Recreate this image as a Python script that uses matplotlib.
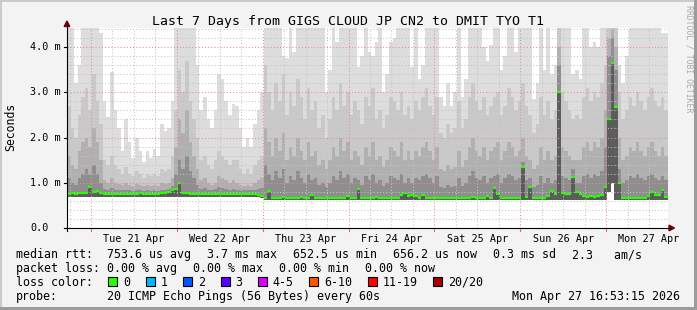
import numpy as np
import matplotlib
matplotlib.use("Agg")
import matplotlib.pyplot as plt
from matplotlib.patches import Rectangle, Polygon
from matplotlib.lines import Line2D

TITLE = "Last 7 Days from GIGS CLOUD JP CN2 to DMIT TYO T1"
DAY_LABELS = ["Tue 21 Apr", "Wed 22 Apr", "Thu 23 Apr", "Fri 24 Apr",
              "Sat 25 Apr", "Sun 26 Apr", "Mon 27 Apr"]
Y_TICKS = [0.0, 1.0, 2.0, 3.0, 4.0]
Y_TICK_LABELS = ["0.0", "1.0 m", "2.0 m", "3.0 m", "4.0 m"]

# one value per hour, in ms, starting Mon 20 Apr 16:53
median_ms = [
    0.76, 0.77, 0.76, 0.77, 0.78, 0.77, 0.90, 0.80, 0.81, 0.78, 0.76, 0.75, 0.76, 0.75, 0.76, 0.75, 0.76, 0.76, 0.75, 0.76, 0.77, 0.76, 0.76, 0.75,
    0.75, 0.76, 0.77, 0.78, 0.80, 0.84, 0.86, 1.00, 0.78, 0.77, 0.76, 0.76, 0.75, 0.76, 0.76, 0.75, 0.75, 0.76, 0.75, 0.75, 0.76, 0.75, 0.75, 0.75,
    0.75, 0.75, 0.76, 0.75, 0.75, 0.74, 0.70, 0.66, 0.82, 0.67, 0.66, 0.67, 0.68, 0.67, 0.66, 0.67, 0.66, 0.68, 0.67, 0.66, 0.73, 0.66, 0.67, 0.66,
    0.66, 0.67, 0.66, 0.66, 0.67, 0.66, 0.70, 0.66, 0.67, 0.86, 0.67, 0.66, 0.66, 0.67, 0.68, 0.66, 0.66, 0.67, 0.67, 0.66, 0.66, 0.72, 0.77, 0.70,
    0.72, 0.70, 0.66, 0.73, 0.66, 0.67, 0.66, 0.66, 0.67, 0.66, 0.66, 0.67, 0.66, 0.66, 0.67, 0.66, 0.66, 0.68, 0.66, 0.67, 0.66, 0.70, 0.67, 0.88,
    0.75, 0.67, 0.66, 0.66, 0.67, 0.66, 0.66, 1.35, 0.68, 0.91, 0.66, 0.67, 0.66, 0.66, 0.70, 0.82, 0.76, 3.00, 0.78, 0.76, 0.75, 1.12, 0.80, 0.76,
    0.70, 0.68, 0.70, 0.69, 0.70, 0.74, 0.90, 2.40, 3.65, 2.68, 1.00, 0.66, 0.66, 0.66, 0.67, 0.66, 0.66, 0.67, 0.70, 0.80, 0.72, 0.74, 0.83, 0.68,
]

min_ms = [
    0.69, 0.69, 0.69, 0.69, 0.69, 0.69, 0.69, 0.69, 0.69, 0.69, 0.69, 0.69, 0.69, 0.69, 0.69, 0.69, 0.69, 0.69, 0.69, 0.69, 0.69, 0.69, 0.69, 0.69,
    0.69, 0.69, 0.69, 0.69, 0.69, 0.69, 0.69, 0.69, 0.69, 0.69, 0.69, 0.69, 0.69, 0.69, 0.69, 0.69, 0.69, 0.69, 0.69, 0.69, 0.69, 0.69, 0.69, 0.69,
    0.69, 0.69, 0.69, 0.69, 0.69, 0.69, 0.66, 0.61, 0.61, 0.61, 0.61, 0.61, 0.61, 0.61, 0.61, 0.61, 0.61, 0.61, 0.61, 0.61, 0.61, 0.61, 0.61, 0.61,
    0.61, 0.61, 0.61, 0.61, 0.61, 0.61, 0.61, 0.61, 0.61, 0.61, 0.61, 0.61, 0.61, 0.61, 0.61, 0.61, 0.61, 0.61, 0.61, 0.61, 0.61, 0.61, 0.61, 0.61,
    0.61, 0.61, 0.61, 0.61, 0.61, 0.61, 0.61, 0.61, 0.61, 0.61, 0.61, 0.61, 0.61, 0.61, 0.61, 0.61, 0.61, 0.61, 0.61, 0.61, 0.61, 0.61, 0.61, 0.61,
    0.61, 0.61, 0.61, 0.61, 0.61, 0.61, 0.61, 0.62, 0.61, 0.61, 0.61, 0.61, 0.61, 0.61, 0.61, 0.61, 0.61, 0.62, 0.61, 0.61, 0.61, 0.61, 0.61, 0.61,
    0.61, 0.61, 0.61, 0.61, 0.61, 0.61, 0.61, 0.80, 1.00, 0.62, 0.61, 0.61, 0.61, 0.61, 0.61, 0.61, 0.61, 0.61, 0.61, 0.61, 0.61, 0.61, 0.61, 0.61,
]

# slowest ping of the 20 (goes off the top of the graph above 4.42)
top_ms = [
    4.6, 4.6, 3.2, 3.6, 4.6, 4.6, 4.6, 4.6, 4.6, 4.3, 2.8, 2.45, 3.45, 2.6, 2.2, 1.7, 2.4, 1.9, 1.55, 2.0, 1.7, 1.45, 1.7, 1.55,
    1.75, 1.6, 2.3, 2.15, 2.2, 2.8, 4.6, 4.6, 4.6, 4.6, 4.6, 4.6, 3.6, 2.6, 2.9, 2.4, 2.2, 2.6, 3.4, 3.3, 2.8, 2.5, 2.75, 2.7,
    2.2, 1.8, 2.0, 1.8, 2.3, 2.6, 3.0, 4.6, 4.6, 4.6, 4.6, 4.6, 3.8, 3.75, 4.6, 3.9, 4.6, 4.6, 4.6, 4.6, 4.6, 4.6, 4.6, 4.6,
    3.0, 3.5, 4.6, 4.1, 4.6, 4.6, 4.6, 4.6, 4.6, 3.55, 3.8, 4.6, 3.9, 3.8, 4.1, 4.6, 3.0, 3.4, 4.1, 4.2, 4.6, 4.6, 4.6, 4.6,
    3.55, 4.6, 3.3, 3.6, 4.6, 4.6, 4.6, 4.6, 2.9, 2.7, 3.2, 2.7, 3.0, 4.6, 2.9, 3.3, 4.6, 4.6, 4.6, 4.6, 4.0, 3.7, 4.05, 4.6,
    4.6, 3.5, 3.8, 4.6, 4.6, 3.9, 4.6, 4.6, 4.6, 4.6, 2.85, 3.2, 4.6, 3.5, 4.6, 3.4, 3.6, 4.6, 4.6, 4.6, 4.6, 3.4, 3.5, 3.3,
    4.6, 4.6, 4.0, 4.1, 4.0, 4.6, 4.6, 4.6, 4.6, 4.6, 3.6, 3.2, 3.8, 4.6, 4.6, 4.6, 4.6, 4.6, 4.6, 4.6, 4.6, 4.6, 4.3, 4.3,
]

q90_ms = [
    2.7, 2.2, 2.0, 2.5, 2.9, 3.1, 2.6, 3.4, 2.8, 2.3, 1.5, 1.4, 1.6, 1.4, 1.3, 1.2, 1.35, 1.2, 1.15, 1.25, 1.2, 1.1, 1.2, 1.15,
    1.2, 1.15, 1.3, 1.25, 1.3, 1.6, 2.6, 3.5, 3.0, 3.7, 2.8, 2.4, 2.0, 1.5, 1.6, 1.4, 1.3, 1.5, 1.7, 1.6, 1.5, 1.4, 1.5, 1.5,
    1.3, 1.2, 1.3, 1.2, 1.4, 1.5, 1.6, 3.6, 3.0, 2.6, 3.2, 2.8, 3.4, 2.5, 3.0, 2.7, 3.3, 2.9, 2.4, 3.1, 2.6, 2.8, 2.2, 2.5,
    2.0, 2.4, 2.9, 2.6, 3.2, 2.7, 3.0, 2.5, 2.8, 2.6, 2.3, 2.9, 2.7, 3.1, 2.4, 2.6, 2.2, 2.5, 2.9, 2.8, 2.6, 3.0, 2.5, 2.7,
    2.4, 2.8, 2.6, 2.9, 3.1, 2.7, 2.5, 2.9, 2.1, 2.0, 2.3, 2.1, 2.2, 2.8, 2.2, 2.4, 2.9, 3.2, 2.8, 2.6, 2.9, 2.5, 2.7, 2.9,
    3.0, 2.5, 2.7, 3.1, 2.9, 2.6, 2.8, 3.2, 2.7, 2.5, 2.1, 2.3, 2.9, 2.5, 2.8, 2.4, 2.6, 4.6, 3.0, 2.8, 2.6, 2.4, 2.5, 2.4,
    2.9, 3.1, 2.8, 3.0, 2.9, 3.2, 3.6, 4.6, 4.6, 4.6, 3.0, 2.4, 2.6, 2.9, 2.7, 3.0, 2.8, 2.6, 2.9, 3.1, 2.8, 2.7, 2.9, 2.6,
]

q75_ms = [
    1.6, 1.4, 1.3, 1.7, 1.9, 2.0, 1.8, 2.2, 1.9, 1.5, 1.05, 1.0, 1.1, 1.0, 0.98, 0.95, 1.0, 0.95, 0.93, 0.97, 0.95, 0.92, 0.95, 0.93,
    0.95, 0.93, 1.0, 0.98, 1.0, 1.1, 1.8, 2.4, 2.1, 2.6, 1.9, 1.6, 1.3, 1.05, 1.1, 1.0, 0.95, 1.0, 1.15, 1.1, 1.05, 1.0, 1.05, 1.0,
    0.95, 0.92, 0.95, 0.92, 1.0, 1.05, 1.1, 2.2, 1.9, 1.6, 2.0, 1.7, 2.1, 1.5, 1.8, 1.6, 2.0, 1.7, 1.5, 1.9, 1.6, 1.7, 1.4, 1.5,
    1.3, 1.5, 1.8, 1.6, 2.0, 1.7, 1.9, 1.5, 1.7, 1.6, 1.4, 1.8, 1.6, 1.9, 1.5, 1.6, 1.35, 1.5, 1.8, 1.7, 1.6, 1.9, 1.5, 1.7,
    1.5, 1.7, 1.6, 1.8, 1.9, 1.7, 1.5, 1.8, 1.3, 1.25, 1.4, 1.3, 1.35, 1.7, 1.35, 1.5, 1.8, 2.0, 1.7, 1.6, 1.8, 1.5, 1.7, 1.8,
    1.9, 1.5, 1.7, 1.9, 1.8, 1.6, 1.7, 2.0, 1.6, 1.5, 1.3, 1.4, 1.8, 1.5, 1.7, 1.5, 1.6, 4.0, 1.8, 1.7, 1.6, 1.5, 1.5, 1.5,
    1.8, 1.9, 1.7, 1.9, 1.8, 2.0, 2.6, 4.2, 4.4, 4.0, 2.0, 1.5, 1.6, 1.8, 1.7, 1.9, 1.7, 1.6, 1.8, 1.9, 1.7, 1.6, 1.8, 1.6,
]

q60_ms = [
    1.1, 1.0, 0.95, 1.1, 1.2, 1.3, 1.2, 1.4, 1.2, 1.0, 0.86, 0.84, 0.88, 0.85, 0.84, 0.83, 0.85, 0.83, 0.82, 0.84, 0.83, 0.82, 0.83, 0.82,
    0.83, 0.82, 0.85, 0.85, 0.87, 0.92, 1.2, 1.5, 1.3, 1.6, 1.25, 1.1, 0.95, 0.86, 0.88, 0.85, 0.84, 0.86, 0.9, 0.88, 0.86, 0.85, 0.86, 0.85,
    0.84, 0.83, 0.84, 0.83, 0.85, 0.86, 0.88, 1.4, 1.2, 1.05, 1.25, 1.1, 1.3, 1.0, 1.15, 1.05, 1.25, 1.1, 1.0, 1.2, 1.05, 1.1, 0.95, 1.0,
    0.9, 1.0, 1.15, 1.05, 1.25, 1.1, 1.2, 1.0, 1.1, 1.05, 0.95, 1.15, 1.05, 1.2, 1.0, 1.05, 0.92, 1.0, 1.15, 1.1, 1.05, 1.2, 1.0, 1.1,
    1.0, 1.1, 1.05, 1.15, 1.2, 1.1, 1.0, 1.15, 0.9, 0.88, 0.95, 0.9, 0.92, 1.1, 0.92, 1.0, 1.15, 1.25, 1.1, 1.05, 1.15, 1.0, 1.1, 1.15,
    1.2, 1.0, 1.1, 1.2, 1.15, 1.05, 1.1, 1.45, 1.05, 1.1, 0.9, 0.95, 1.15, 1.0, 1.1, 1.0, 1.05, 3.6, 1.15, 1.1, 1.05, 1.3, 1.0, 1.0,
    1.15, 1.2, 1.1, 1.2, 1.15, 1.25, 1.8, 3.8, 4.2, 3.5, 1.3, 1.0, 1.05, 1.15, 1.1, 1.2, 1.1, 1.05, 1.15, 1.2, 1.1, 1.05, 1.15, 1.05,
]

MEDIAN_TEXT = ["median rtt:  753.6 us avg", "3.7 ms max", "652.5 us min",
               "656.2 us now", "0.3 ms sd", "2.3   am/s"]
LOSS_TEXT = ["packet loss: 0.00 % avg", "0.00 % max", "0.00 % min", "0.00 % now"]
LOSS_LABELS = ["0", "1", "2", "3", "4-5", "6-10", "11-19", "20/20"]
LOSS_COLORS = ["#26ff00", "#00b8ff", "#0059ff", "#5e00ff",
               "#dd00ff", "#ff5500", "#ff0000", "#a10000"]
PROBE_TEXT = "20 ICMP Echo Pings (56 Bytes) every 60s"
STAMP_TEXT = "Mon Apr 27 16:53:15 2026"

W, H = 697, 310
FIRST_MIDNIGHT = 6.7  # hours from the left edge to Tue 00:00
FONT = "DejaVu Sans Mono"


def fx(px):
    return px / W


def fy(py):
    return 1 - py / H


def main():
    fig = plt.figure(figsize=(W / 100, H / 100), dpi=100, facecolor="#f3f3f3")

    # frame shading like rrdtool
    fig.add_artist(Rectangle((0, fy(2)), 1, 2 / H, transform=fig.transFigure, color="#cbcbcb", lw=0))
    fig.add_artist(Rectangle((0, 0), 2 / W, 1, transform=fig.transFigure, color="#cbcbcb", lw=0))
    fig.add_artist(Rectangle((fx(694), 0), 3 / W, 1, transform=fig.transFigure, color="#9c9c9c", lw=0))
    fig.add_artist(Rectangle((0, 0), 1, 3 / H, transform=fig.transFigure, color="#9c9c9c", lw=0))

    ax = fig.add_axes([fx(67), fy(228), 601 / W, 200 / H])
    ax.set_facecolor("white")
    n = len(median_ms)
    edges = np.arange(n + 1)

    ax.stairs(top_ms, edges, baseline=min_ms, fill=True, color="#dddddd", lw=0, zorder=1)
    ax.stairs(q90_ms, edges, baseline=min_ms, fill=True, color="#c9c9c9", lw=0, zorder=1)
    ax.stairs(q75_ms, edges, baseline=min_ms, fill=True, color="#b0b0b0", lw=0, zorder=1)
    ax.stairs(q60_ms, edges, baseline=min_ms, fill=True, color="#8e8e8e", lw=0, zorder=1)
    ax.stairs(median_ms, edges, baseline=min_ms, fill=True, color="#5c5c5c", lw=0, zorder=1)

    # grid
    dots = (0, (1, 2))
    for h in np.arange(FIRST_MIDNIGHT - 6, n, 6):
        if h <= 0:
            continue
        is_day = abs((h - FIRST_MIDNIGHT) % 24) < 0.01
        ax.axvline(h, color="#e09090" if is_day else "#c4c4c4", lw=0.75, ls=dots, zorder=2)
    for v in np.arange(0.2, 4.41, 0.2):
        major = abs(v - round(v)) < 0.01
        ax.axhline(v, color="#e09090" if major else "#c4c4c4", lw=0.75, ls=dots, zorder=2)

    # median drawn as short flat segments, the way smokeping does it
    ax.hlines(median_ms, edges[:-1], edges[1:], colors=LOSS_COLORS[0], lw=1.6, zorder=3)

    ax.set_xlim(0, n)
    ax.set_ylim(0, 4.42)
    ax.set_xticks([])
    ax.set_yticks([])
    for s in ax.spines.values():
        s.set_visible(False)

    # axes with arrows
    fig.add_artist(Line2D([fx(67), fx(67)], [fy(231), fy(25)], color="black", lw=0.8))
    fig.add_artist(Line2D([fx(64), fx(670)], [fy(228), fy(228)], color="black", lw=0.8))
    fig.add_artist(Polygon([[fx(67), fy(21)], [fx(64.2), fy(26.5)], [fx(69.8), fy(26.5)]],
                           closed=True, transform=fig.transFigure, color="#7f0000"))
    fig.add_artist(Polygon([[fx(674.5), fy(228)], [fx(669), fy(225.2)], [fx(669), fy(230.8)]],
                           closed=True, transform=fig.transFigure, color="#7f0000"))

    for v, lab in zip(Y_TICKS, Y_TICK_LABELS):
        py = 228 - v * 200 / 4.42
        fig.add_artist(Line2D([fx(64), fx(67)], [fy(py), fy(py)], color="black", lw=0.8))
        fig.text(fx(30), fy(py), lab, family=FONT, fontsize=7.3, ha="left", va="center")

    for d, lab in enumerate(DAY_LABELS):
        mid_px = 67 + (FIRST_MIDNIGHT + 24 * d) * 601 / n
        fig.add_artist(Line2D([fx(mid_px), fx(mid_px)], [fy(228.5), fy(231)], color="#d07070", lw=0.8))
        noon_px = 67 + (FIRST_MIDNIGHT + 12 + 24 * d) * 601 / n
        fig.text(fx(noon_px), fy(241.5), lab, family=FONT, fontsize=7.3, ha="center", va="baseline")

    fig.text(fx(348.5), fy(24.5), TITLE, family=FONT, fontsize=9.5, ha="center", va="baseline")
    fig.text(fx(11), fy(127), "Seconds", family=FONT, fontsize=8.3, rotation=90, ha="center", va="center")
    fig.text(fx(688.5), fy(5), "RRDTOOL / TOBI OETIKER", family=FONT, fontsize=5.9,
             rotation=270, ha="center", va="top", color="#aaaaaa")

    # legend lines
    pitch = 7.0
    gap = 2.3
    x = 16
    for t in MEDIAN_TEXT:
        fig.text(fx(x), fy(258.3), t, family=FONT, fontsize=8.35, ha="left", va="baseline")
        x += (len(t) + gap) * pitch
    x = 16
    for t in LOSS_TEXT:
        fig.text(fx(x), fy(271.8), t, family=FONT, fontsize=8.35, ha="left", va="baseline")
        x += (len(t) + gap) * pitch

    fig.text(fx(16), fy(285.7), "loss color:", family=FONT, fontsize=8.35, ha="left", va="baseline")
    bx = 108.3
    for lab, col in zip(LOSS_LABELS, LOSS_COLORS):
        fig.add_artist(Rectangle((fx(bx), fy(286.3)), 9 / W, 9 / H, transform=fig.transFigure,
                                 facecolor=col, edgecolor="black", lw=0.8))
        fig.text(fx(bx + 15), fy(285.7), lab, family=FONT, fontsize=8.35, ha="left", va="baseline")
        bx += 37.4 + pitch * (len(lab) - 1)

    fig.text(fx(16), fy(299.7), "probe:", family=FONT, fontsize=8.35, ha="left", va="baseline")
    fig.text(fx(107), fy(299.7), PROBE_TEXT, family=FONT, fontsize=8.35, ha="left", va="baseline")
    fig.text(fx(680.5), fy(299.7), STAMP_TEXT, family=FONT, fontsize=8.35, ha="right", va="baseline")

    fig.savefig("out.png", dpi=100, facecolor=fig.get_facecolor())


if __name__ == "__main__":
    main()
